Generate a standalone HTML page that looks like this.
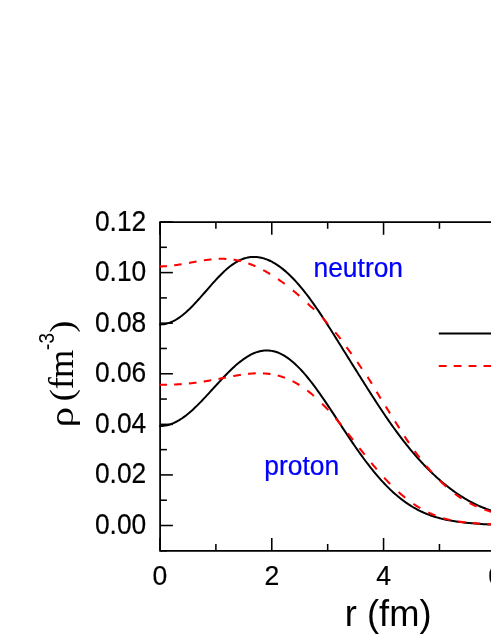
<!DOCTYPE html>
<html><head><meta charset="utf-8"><title>density</title>
<style>
html,body{margin:0;padding:0;background:#fff;}
body{width:491px;height:635px;overflow:hidden;}
svg{display:block;will-change:transform;}
text{font-family:"Liberation Sans",sans-serif;}
.serif text{font-family:"Liberation Serif",serif;}
.serif text.sans{font-family:"Liberation Sans",sans-serif;}
</style></head><body>
<svg width="491" height="635" viewBox="0 0 491 635">
<rect width="491" height="635" fill="#fff"/>
<g stroke="#000" stroke-width="1.55" fill="none">
<line x1="160.1" y1="550.79" x2="166.9" y2="550.79"/>
<line x1="160.1" y1="525.50" x2="172.9" y2="525.50"/>
<line x1="160.1" y1="500.21" x2="166.9" y2="500.21"/>
<line x1="160.1" y1="474.92" x2="172.9" y2="474.92"/>
<line x1="160.1" y1="449.63" x2="166.9" y2="449.63"/>
<line x1="160.1" y1="424.34" x2="172.9" y2="424.34"/>
<line x1="160.1" y1="399.05" x2="166.9" y2="399.05"/>
<line x1="160.1" y1="373.76" x2="172.9" y2="373.76"/>
<line x1="160.1" y1="348.47" x2="166.9" y2="348.47"/>
<line x1="160.1" y1="323.18" x2="172.9" y2="323.18"/>
<line x1="160.1" y1="297.89" x2="166.9" y2="297.89"/>
<line x1="160.1" y1="272.60" x2="172.9" y2="272.60"/>
<line x1="160.1" y1="247.31" x2="166.9" y2="247.31"/>
<line x1="160.1" y1="222.02" x2="172.9" y2="222.02"/>
<line x1="160.00" y1="550.8" x2="160.00" y2="538.0"/>
<line x1="160.00" y1="222.0" x2="160.00" y2="234.8"/>
<line x1="215.89" y1="550.8" x2="215.89" y2="544.0"/>
<line x1="215.89" y1="222.0" x2="215.89" y2="228.8"/>
<line x1="271.78" y1="550.8" x2="271.78" y2="538.0"/>
<line x1="271.78" y1="222.0" x2="271.78" y2="234.8"/>
<line x1="327.67" y1="550.8" x2="327.67" y2="544.0"/>
<line x1="327.67" y1="222.0" x2="327.67" y2="228.8"/>
<line x1="383.56" y1="550.8" x2="383.56" y2="538.0"/>
<line x1="383.56" y1="222.0" x2="383.56" y2="234.8"/>
<line x1="439.45" y1="550.8" x2="439.45" y2="544.0"/>
<line x1="439.45" y1="222.0" x2="439.45" y2="228.8"/>
<line x1="495.34" y1="550.8" x2="495.34" y2="538.0"/>
<line x1="495.34" y1="222.0" x2="495.34" y2="234.8"/>
</g>
<g stroke="#000" stroke-width="1.75" fill="none">
<path d="M495,222.0 H160.1 V550.8 H495"/>
</g>
<g fill="none" stroke-width="2" stroke-linejoin="round">
<path stroke="#000" d="M159.3,324.43 L160.8,324.44 L162.3,324.35 L163.8,324.18 L165.3,323.92 L166.8,323.57 L168.3,323.14 L169.8,322.63 L171.3,322.03 L172.8,321.36 L174.3,320.60 L175.8,319.77 L177.3,318.86 L178.8,317.88 L180.3,316.82 L181.8,315.70 L183.3,314.52 L184.8,313.27 L186.3,311.96 L187.8,310.59 L189.3,309.17 L190.8,307.71 L192.3,306.20 L193.8,304.64 L195.3,303.05 L196.8,301.43 L198.3,299.78 L199.8,298.11 L201.3,296.41 L202.8,294.70 L204.3,292.99 L205.8,291.26 L207.3,289.54 L208.8,287.81 L210.3,286.10 L211.8,284.40 L213.3,282.71 L214.8,281.05 L216.3,279.41 L217.8,277.80 L219.3,276.23 L220.8,274.70 L222.3,273.21 L223.8,271.78 L225.3,270.39 L226.8,269.06 L228.3,267.78 L229.8,266.57 L231.3,265.42 L232.8,264.34 L234.3,263.33 L235.8,262.39 L237.3,261.52 L238.8,260.73 L240.3,260.01 L241.8,259.36 L243.3,258.79 L244.8,258.30 L246.3,257.88 L247.8,257.54 L249.3,257.28 L250.8,257.09 L252.3,256.97 L253.8,256.93 L255.3,256.96 L256.8,257.05 L258.3,257.22 L259.8,257.46 L261.3,257.77 L262.8,258.14 L264.3,258.58 L265.8,259.08 L267.3,259.65 L268.8,260.28 L270.3,260.97 L271.8,261.73 L273.3,262.54 L274.8,263.42 L276.3,264.35 L277.8,265.34 L279.3,266.38 L280.8,267.49 L282.3,268.64 L283.8,269.86 L285.3,271.12 L286.8,272.44 L288.3,273.81 L289.8,275.23 L291.3,276.70 L292.8,278.22 L294.3,279.79 L295.8,281.41 L297.3,283.07 L298.8,284.78 L300.3,286.54 L301.8,288.34 L303.3,290.18 L304.8,292.06 L306.3,293.99 L307.8,295.95 L309.3,297.95 L310.8,299.99 L312.3,302.07 L313.8,304.17 L315.3,306.31 L316.8,308.48 L318.3,310.68 L319.8,312.91 L321.3,315.16 L322.8,317.43 L324.3,319.73 L325.8,322.04 L327.3,324.38 L328.8,326.72 L330.3,329.09 L331.8,331.46 L333.3,333.84 L334.8,336.23 L336.3,338.63 L337.8,341.03 L339.3,343.43 L340.8,345.84 L342.3,348.25 L343.8,350.66 L345.3,353.07 L346.8,355.48 L348.3,357.89 L349.8,360.30 L351.3,362.70 L352.8,365.10 L354.3,367.50 L355.8,369.90 L357.3,372.29 L358.8,374.68 L360.3,377.07 L361.8,379.45 L363.3,381.83 L364.8,384.21 L366.3,386.58 L367.8,388.94 L369.3,391.29 L370.8,393.64 L372.3,395.98 L373.8,398.31 L375.3,400.63 L376.8,402.93 L378.3,405.22 L379.8,407.50 L381.3,409.77 L382.8,412.01 L384.3,414.24 L385.8,416.46 L387.3,418.65 L388.8,420.82 L390.3,422.97 L391.8,425.10 L393.3,427.21 L394.8,429.29 L396.3,431.36 L397.8,433.39 L399.3,435.41 L400.8,437.39 L402.3,439.36 L403.8,441.30 L405.3,443.21 L406.8,445.10 L408.3,446.96 L409.8,448.79 L411.3,450.60 L412.8,452.38 L414.3,454.14 L415.8,455.87 L417.3,457.58 L418.8,459.26 L420.3,460.91 L421.8,462.54 L423.3,464.14 L424.8,465.72 L426.3,467.27 L427.8,468.80 L429.3,470.30 L430.8,471.77 L432.3,473.22 L433.8,474.65 L435.3,476.05 L436.8,477.42 L438.3,478.77 L439.8,480.09 L441.3,481.39 L442.8,482.67 L444.3,483.92 L445.8,485.14 L447.3,486.34 L448.8,487.51 L450.3,488.66 L451.8,489.79 L453.3,490.89 L454.8,491.96 L456.3,493.01 L457.8,494.03 L459.3,495.04 L460.8,496.01 L462.3,496.96 L463.8,497.89 L465.3,498.79 L466.8,499.67 L468.3,500.52 L469.8,501.35 L471.3,502.15 L472.8,502.93 L474.3,503.69 L475.8,504.42 L477.3,505.13 L478.8,505.81 L480.3,506.47 L481.8,507.10 L483.3,507.71 L484.8,508.30 L486.3,508.86 L487.8,509.39 L489.3,509.91 L490.8,510.40 L492.3,510.86 L493.8,511.30 L495.3,511.72"/>
<path stroke="#000" d="M159.3,426.04 L160.8,426.05 L162.3,425.97 L163.8,425.83 L165.3,425.60 L166.8,425.30 L168.3,424.93 L169.8,424.48 L171.3,423.97 L172.8,423.38 L174.3,422.72 L175.8,422.00 L177.3,421.21 L178.8,420.36 L180.3,419.44 L181.8,418.47 L183.3,417.43 L184.8,416.34 L186.3,415.20 L187.8,414.00 L189.3,412.76 L190.8,411.46 L192.3,410.13 L193.8,408.75 L195.3,407.33 L196.8,405.88 L198.3,404.39 L199.8,402.87 L201.3,401.33 L202.8,399.76 L204.3,398.17 L205.8,396.56 L207.3,394.94 L208.8,393.31 L210.3,391.67 L211.8,390.02 L213.3,388.37 L214.8,386.73 L216.3,385.08 L217.8,383.45 L219.3,381.82 L220.8,380.20 L222.3,378.61 L223.8,377.02 L225.3,375.46 L226.8,373.93 L228.3,372.42 L229.8,370.94 L231.3,369.49 L232.8,368.07 L234.3,366.70 L235.8,365.36 L237.3,364.06 L238.8,362.81 L240.3,361.61 L241.8,360.45 L243.3,359.35 L244.8,358.30 L246.3,357.31 L247.8,356.38 L249.3,355.50 L250.8,354.69 L252.3,353.95 L253.8,353.27 L255.3,352.67 L256.8,352.13 L258.3,351.67 L259.8,351.27 L261.3,350.95 L262.8,350.71 L264.3,350.55 L265.8,350.46 L267.3,350.44 L268.8,350.51 L270.3,350.65 L271.8,350.87 L273.3,351.17 L274.8,351.55 L276.3,352.01 L277.8,352.54 L279.3,353.15 L280.8,353.84 L282.3,354.60 L283.8,355.44 L285.3,356.35 L286.8,357.33 L288.3,358.39 L289.8,359.51 L291.3,360.70 L292.8,361.96 L294.3,363.28 L295.8,364.66 L297.3,366.11 L298.8,367.61 L300.3,369.17 L301.8,370.78 L303.3,372.45 L304.8,374.16 L306.3,375.93 L307.8,377.74 L309.3,379.60 L310.8,381.50 L312.3,383.44 L313.8,385.42 L315.3,387.43 L316.8,389.48 L318.3,391.56 L319.8,393.67 L321.3,395.81 L322.8,397.98 L324.3,400.16 L325.8,402.37 L327.3,404.60 L328.8,406.84 L330.3,409.09 L331.8,411.36 L333.3,413.63 L334.8,415.92 L336.3,418.20 L337.8,420.49 L339.3,422.78 L340.8,425.07 L342.3,427.36 L343.8,429.64 L345.3,431.91 L346.8,434.17 L348.3,436.42 L349.8,438.66 L351.3,440.88 L352.8,443.09 L354.3,445.28 L355.8,447.45 L357.3,449.60 L358.8,451.73 L360.3,453.84 L361.8,455.92 L363.3,457.98 L364.8,460.01 L366.3,462.01 L367.8,463.98 L369.3,465.93 L370.8,467.84 L372.3,469.72 L373.8,471.57 L375.3,473.38 L376.8,475.17 L378.3,476.91 L379.8,478.63 L381.3,480.30 L382.8,481.95 L384.3,483.55 L385.8,485.12 L387.3,486.65 L388.8,488.14 L390.3,489.60 L391.8,491.02 L393.3,492.40 L394.8,493.74 L396.3,495.05 L397.8,496.32 L399.3,497.55 L400.8,498.74 L402.3,499.90 L403.8,501.02 L405.3,502.10 L406.8,503.15 L408.3,504.17 L409.8,505.14 L411.3,506.09 L412.8,507.00 L414.3,507.87 L415.8,508.72 L417.3,509.53 L418.8,510.31 L420.3,511.05 L421.8,511.77 L423.3,512.46 L424.8,513.11 L426.3,513.74 L427.8,514.34 L429.3,514.92 L430.8,515.46 L432.3,515.99 L433.8,516.48 L435.3,516.95 L436.8,517.40 L438.3,517.83 L439.8,518.23 L441.3,518.61 L442.8,518.98 L444.3,519.32 L445.8,519.65 L447.3,519.96 L448.8,520.25 L450.3,520.53 L451.8,520.79 L453.3,521.04 L454.8,521.28 L456.3,521.50 L457.8,521.72 L459.3,521.92 L460.8,522.11 L462.3,522.30 L463.8,522.47 L465.3,522.64 L466.8,522.80 L468.3,522.95 L469.8,523.09 L471.3,523.23 L472.8,523.36 L474.3,523.49 L475.8,523.61 L477.3,523.73 L478.8,523.84 L480.3,523.95 L481.8,524.05 L483.3,524.15 L484.8,524.24 L486.3,524.33 L487.8,524.42 L489.3,524.50 L490.8,524.58 L492.3,524.65 L493.8,524.72 L495.3,524.79"/>
<path stroke="#f00" stroke-width="2.05" d="M159.30,266.43 L160.30,266.42 L161.30,266.40 L162.30,266.37 L163.30,266.33 L164.30,266.28 L165.30,266.22 L166.30,266.15 L166.95,266.10 M174.15,265.33 L175.15,265.20 L176.15,265.06 L177.15,264.91 L178.15,264.76 L179.15,264.61 L180.15,264.45 L181.15,264.28 L181.65,264.20 M189.00,262.90 L190.00,262.72 L191.00,262.54 L192.00,262.36 L193.00,262.17 L194.00,261.99 L195.00,261.81 L196.00,261.63 L196.50,261.54 M203.85,260.33 L204.85,260.18 L205.85,260.04 L206.85,259.90 L207.85,259.77 L208.85,259.65 L209.85,259.53 L210.85,259.42 L211.45,259.36 M218.70,258.86 L219.70,258.84 L220.70,258.82 L221.70,258.81 L222.70,258.82 L223.70,258.84 L224.70,258.87 L225.70,258.91 L226.35,258.94 M233.50,259.68 L234.50,259.84 L235.50,260.01 L236.50,260.19 L237.50,260.39 L238.50,260.60 L239.50,260.83 L240.50,261.07 L240.90,261.17 M248.35,263.43 L249.35,263.79 L250.35,264.17 L251.35,264.56 L252.35,264.96 L253.35,265.37 L254.35,265.80 L255.35,266.24 L255.45,266.28 M263.20,270.09 L264.20,270.63 L265.20,271.19 L266.20,271.75 L267.20,272.32 L268.20,272.90 L269.20,273.50 L270.05,274.01 M278.05,279.18 L279.05,279.87 L280.05,280.56 L281.05,281.27 L282.05,281.99 L283.05,282.72 L284.05,283.45 L284.70,283.93 M292.90,290.37 L293.90,291.20 L294.90,292.04 L295.90,292.89 L296.90,293.75 L297.90,294.61 L298.90,295.49 L299.35,295.89 M307.70,303.62 L308.70,304.56 L309.70,305.49 L310.70,306.41 L311.70,307.31 L312.70,308.20 L313.70,309.08 L314.20,309.52 M322.30,317.50 L323.30,318.65 L324.30,319.81 L325.30,320.98 L326.30,322.16 L327.30,323.33 L327.90,324.03 M335.20,332.36 L336.20,333.52 L337.20,334.69 L338.20,335.90 L339.20,337.14 L340.20,338.41 L340.65,339.00 M346.60,347.18 L347.60,348.57 L348.60,349.94 L349.60,351.29 L350.60,352.62 L351.50,353.80 M357.35,362.04 L358.35,363.55 L359.35,365.06 L360.35,366.54 L361.35,367.99 L361.90,368.78 M367.55,376.92 L368.55,378.44 L369.55,380.00 L370.55,381.60 L371.55,383.23 L371.85,383.73 M376.60,391.73 L377.60,393.40 L378.60,395.06 L379.60,396.71 L380.60,398.34 L380.75,398.58 M385.75,406.55 L386.75,408.14 L387.75,409.73 L388.75,411.33 L389.75,412.92 L390.05,413.40 M395.05,421.38 L396.05,422.96 L397.05,424.54 L398.05,426.11 L399.05,427.68 L399.40,428.23 M404.55,436.28 L405.55,437.83 L406.55,439.37 L407.55,440.89 L408.55,442.39 L408.95,442.99 M414.65,451.11 L415.65,452.47 L416.65,453.82 L417.65,455.14 L418.65,456.45 L419.60,457.68 M426.25,465.89 L427.25,467.06 L428.25,468.23 L429.25,469.37 L430.25,470.51 L431.25,471.62 L431.90,472.34 M439.95,480.76 L440.95,481.74 L441.95,482.70 L442.95,483.65 L443.95,484.59 L444.95,485.51 L445.95,486.41 L446.40,486.82 M454.80,493.72 L455.80,494.47 L456.80,495.19 L457.80,495.91 L458.80,496.60 L459.80,497.28 L460.80,497.94 L461.60,498.46 M469.60,503.09 L470.60,503.60 L471.60,504.10 L472.60,504.59 L473.60,505.06 L474.60,505.52 L475.60,505.97 L476.60,506.40 L476.75,506.47 M484.45,509.49 L485.45,509.85 L486.45,510.20 L487.45,510.55 L488.45,510.90 L489.45,511.24 L490.45,511.58 L491.45,511.91 L491.70,512.00"/>
<path stroke="#f00" stroke-width="2.05" d="M159.30,384.67 L160.30,384.68 L161.30,384.69 L162.30,384.69 L163.30,384.69 L164.30,384.69 L165.30,384.68 L166.30,384.68 L167.05,384.67 M174.10,384.49 L175.10,384.45 L176.10,384.41 L177.10,384.36 L178.10,384.31 L179.10,384.25 L180.10,384.19 L181.10,384.13 L181.75,384.08 M188.90,383.47 L189.90,383.37 L190.90,383.26 L191.90,383.15 L192.90,383.03 L193.90,382.91 L194.90,382.79 L195.90,382.66 L196.50,382.58 M203.70,381.53 L204.70,381.37 L205.70,381.21 L206.70,381.04 L207.70,380.87 L208.70,380.70 L209.70,380.52 L210.70,380.35 L211.20,380.26 M218.50,378.89 L219.50,378.70 L220.50,378.51 L221.50,378.32 L222.50,378.12 L223.50,377.93 L224.50,377.74 L225.50,377.54 L226.00,377.45 M233.30,376.07 L234.30,375.90 L235.30,375.72 L236.30,375.55 L237.30,375.38 L238.30,375.21 L239.30,375.05 L240.30,374.90 L240.85,374.81 M248.10,373.87 L249.10,373.77 L250.10,373.68 L251.10,373.59 L252.10,373.52 L253.10,373.45 L254.10,373.39 L255.10,373.34 L255.80,373.32 M262.90,373.35 L263.90,373.40 L264.90,373.47 L265.90,373.55 L266.90,373.64 L267.90,373.74 L268.90,373.86 L269.90,374.00 L270.45,374.08 M277.70,375.54 L278.70,375.81 L279.70,376.09 L280.70,376.39 L281.70,376.70 L282.70,377.03 L283.70,377.38 L284.70,377.74 L284.95,377.84 M292.50,381.16 L293.50,381.67 L294.50,382.20 L295.50,382.75 L296.50,383.31 L297.50,383.90 L298.50,384.50 L299.35,385.02 M307.30,390.54 L308.30,391.31 L309.30,392.10 L310.30,392.91 L311.30,393.73 L312.30,394.57 L313.30,395.43 L313.80,395.86 M322.10,403.65 L323.10,404.66 L324.10,405.69 L325.10,406.72 L326.10,407.77 L327.10,408.84 L328.10,409.92 L328.25,410.08 M335.70,418.51 L336.70,419.68 L337.70,420.87 L338.70,422.07 L339.70,423.27 L340.70,424.48 L341.15,425.03 M347.80,433.28 L348.80,434.54 L349.80,435.80 L350.80,437.07 L351.80,438.34 L352.80,439.61 L353.00,439.86 M359.45,448.07 L360.45,449.33 L361.45,450.60 L362.45,451.86 L363.45,453.12 L364.45,454.37 L364.70,454.69 M371.35,462.89 L372.35,464.09 L373.35,465.30 L374.35,466.49 L375.35,467.67 L376.35,468.85 L376.80,469.37 M384.15,477.68 L385.15,478.76 L386.15,479.83 L387.15,480.89 L388.15,481.94 L389.15,482.97 L390.15,484.00 M398.60,492.09 L399.60,492.99 L400.60,493.87 L401.60,494.73 L402.60,495.58 L403.60,496.41 L404.60,497.23 L405.20,497.72 M413.40,503.83 L414.40,504.50 L415.40,505.17 L416.40,505.82 L417.40,506.45 L418.40,507.07 L419.40,507.68 L420.30,508.22 M428.20,512.42 L429.20,512.89 L430.20,513.35 L431.20,513.80 L432.20,514.23 L433.20,514.65 L434.20,515.06 L435.20,515.45 L435.40,515.53 M443.00,518.12 L444.00,518.41 L445.00,518.69 L446.00,518.96 L447.00,519.22 L448.00,519.47 L449.00,519.71 L450.00,519.94 L450.45,520.04 M457.80,521.42 L458.80,521.57 L459.80,521.72 L460.80,521.86 L461.80,521.99 L462.80,522.11 L463.80,522.23 L464.80,522.35 L465.40,522.41 M472.60,523.06 L473.60,523.14 L474.60,523.21 L475.60,523.28 L476.60,523.35 L477.60,523.41 L478.60,523.48 L479.60,523.54 L480.30,523.59 M487.40,524.06 L488.40,524.13 L489.40,524.21 L490.40,524.29 L491.40,524.37 L492.40,524.46 L493.40,524.55 L494.40,524.65 L495.00,524.71"/>
<line x1="438.8" y1="333.4" x2="495" y2="333.4" stroke="#000"/>
<line x1="438.8" y1="365.9" x2="495" y2="365.9" stroke="#f00" stroke-dasharray="7.8 7.1"/>
</g>
<g fill="#000" stroke="#000" stroke-width="0.2">
<text transform="translate(146.3,534.0) scale(0.92,1)" font-size="28.7" text-anchor="end">0.00</text>
<text transform="translate(146.3,483.4) scale(0.92,1)" font-size="28.7" text-anchor="end">0.02</text>
<text transform="translate(146.3,432.8) scale(0.92,1)" font-size="28.7" text-anchor="end">0.04</text>
<text transform="translate(146.3,382.3) scale(0.92,1)" font-size="28.7" text-anchor="end">0.06</text>
<text transform="translate(146.3,331.7) scale(0.92,1)" font-size="28.7" text-anchor="end">0.08</text>
<text transform="translate(146.3,281.1) scale(0.92,1)" font-size="28.7" text-anchor="end">0.10</text>
<text transform="translate(146.3,230.5) scale(0.92,1)" font-size="28.7" text-anchor="end">0.12</text>
<text transform="translate(160.0,584.9) scale(0.95,1)" font-size="28.0" text-anchor="middle">0</text>
<text transform="translate(271.8,584.9) scale(0.95,1)" font-size="28.0" text-anchor="middle">2</text>
<text transform="translate(383.6,584.9) scale(0.95,1)" font-size="28.0" text-anchor="middle">4</text>
<text transform="translate(495.3,584.9) scale(0.95,1)" font-size="28.0" text-anchor="middle">6</text>
</g>
<g font-size="27.6" fill="#00f" stroke="#00f" stroke-width="0.25">
<text transform="translate(313.5,277.3) scale(0.957,1)">neutron</text>
<text transform="translate(264.3,474.8) scale(0.957,1)">proton</text>
</g>
<text x="344.8" y="625.7" font-size="36.3" fill="#000">r (fm)</text>
<g transform="translate(72.9,0) rotate(-90)" fill="#000" class="serif" font-size="36.4">
<text transform="translate(-427.6,0) scale(1.14,0.95)">ρ</text>
<text transform="translate(-401.2,0) scale(1,0.93)">(</text>
<text x="-389.2" y="0">f</text>
<text x="-378.0" y="0">m</text>
<text transform="translate(-332.8,0) scale(1,0.93)">)</text>
<text transform="translate(-349.9,-19.1) scale(0.88,1)" class="sans" font-size="21.5">-3</text>
</g>
</svg>
</body></html>
